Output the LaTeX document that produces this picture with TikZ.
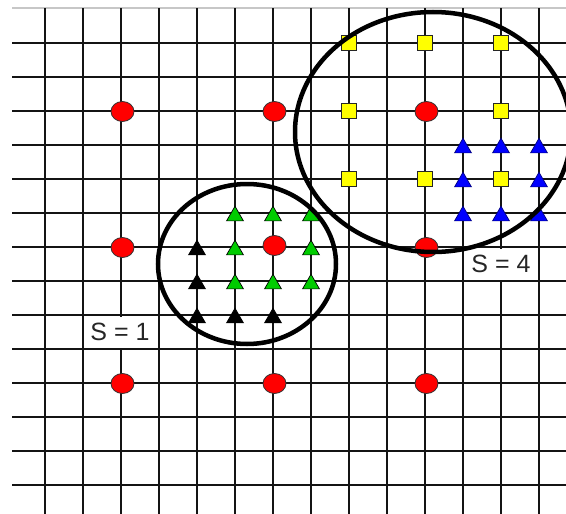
\documentclass[tikz,border=0pt]{standalone}
\usepackage{fontspec}
\setmainfont{Liberation Sans}
\usetikzlibrary{shapes.geometric}
\definecolor{gridc}{RGB}{20,20,20}
\definecolor{ptred}{RGB}{255,0,0}
\definecolor{ptyellow}{RGB}{255,255,0}
\definecolor{ptblue}{RGB}{0,0,255}
\definecolor{ptgreen}{RGB}{0,204,0}
\begin{document}
\begin{tikzpicture}[x=1pt,y=-1pt,
  gridline/.style={line width=1.8pt, draw=gridc},
  redpt/.style={ellipse, draw=black!80, line width=0.8pt, fill=ptred, minimum width=23pt, minimum height=20pt, inner sep=0pt},
  yelpt/.style={rectangle, draw=black!85, line width=1pt, fill=ptyellow, minimum size=15pt, inner sep=0pt},
  tri/.style={regular polygon, regular polygon sides=3, minimum size=19.5pt, inner sep=0pt, line width=0.7pt},
  bluept/.style={tri, fill=ptblue, draw=black!50!ptblue},
  greenpt/.style={tri, fill=ptgreen, draw=black},
  blackpt/.style={tri, fill=black, draw=black},
  ring/.style={ellipse, draw=black, line width=4.5pt, inner sep=0pt},
  lab/.style={rectangle, fill=white, inner sep=0pt, minimum width=73pt, minimum height=31pt, text=black!85, font=\fontsize{25}{30}\selectfont}
]
\useasboundingbox (0,0) rectangle (566,514);
\clip (0,0) rectangle (566,514);
\fill[white] (0,0) rectangle (566,514);
% top border
\draw[line width=1.5pt, draw=black!22] (12,8) -- (566,8);
% grid
\foreach \k in {0,...,13} {
  \draw[gridline] (12,43+34*\k) -- (566,43+34*\k);
  \draw[gridline] (45+38*\k,8) -- (45+38*\k,514);
}
% labels
\node[lab] (s1) at (120,332) {S = 1};
\node[lab] (s4) at (501,264) {S = 4};
% red points
\foreach \gx/\gy [count=\i] in {121/111,273/111,425/111,121/247,273/245,425/247,121/383,273/383,425/383}
  \node[redpt] (r\i) at (\gx+1.5,\gy+0.5) {};
% yellow squares
\foreach \gx/\gy [count=\i] in {349/43,425/43,501/43,349/111,501/111,349/179,425/179,501/179}
  \node[yelpt] (y\i) at (\gx,\gy) {};
% blue triangles
\foreach \gx/\gy [count=\i] in {463/145,501/145,539/145,463/179,539/179,463/213,501/213,539/213}
  \node[bluept] (b\i) at (\gx,\gy+3) {};
% green triangles
\foreach \gx/\gy [count=\i] in {235/213,273/213,311/213,235/247,311/247,235/281,273/281,311/281}
  \node[greenpt] (g\i) at (\gx,\gy+3) {};
% black triangles
\foreach \gx/\gy [count=\i] in {197/247,197/281,197/315,235/315,273/315}
  \node[blackpt] (k\i) at (\gx,\gy+3) {};
% rings
\node[ring, minimum width=178pt, minimum height=160pt] (small) at (247,264) {};
\node[ring, minimum width=276pt, minimum height=240pt] (big) at (433,132) {};
\end{tikzpicture}
\end{document}
